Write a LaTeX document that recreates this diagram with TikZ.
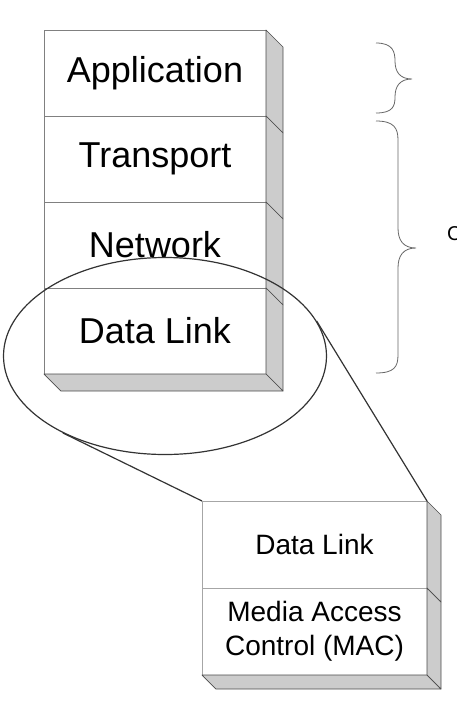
\documentclass[tikz,border=0pt]{standalone}
\usepackage{fontspec}
\setmainfont{Liberation Sans}
\usetikzlibrary{positioning, shapes.geometric}

\begin{document}
\begin{tikzpicture}[
    x=1pt, y=1pt,
    layer/.style={rectangle, draw=gray, fill=white, minimum width=222pt, minimum height=86pt,
        inner sep=0pt, outer sep=0pt, font=\fontsize{36}{43}\selectfont},
    sublayer/.style={rectangle, draw=gray!70, fill=white, minimum width=225pt, minimum height=87pt,
        inner sep=0pt, outer sep=0pt, align=center, font=\fontsize{28}{34}\selectfont},
    side/.style={fill=gray!40, draw=black!70, line width=0.7pt, line join=round},
    lens/.style={draw=black!80, line width=1.2pt},
    curly/.style={draw=black!60, line width=0.8pt}
]

\clip (0,0) rectangle (457,-713);

% Protocol stack
\node[layer] (app) at (155,-73) {Application};
\node[layer, below=0pt of app] (trans) {Transport};
\node[layer, below=0pt of trans] (net) {Network};
\node[layer, below=0pt of net] (dl) {Data Link};

% Stack depth
\draw[side] (app.north east) -- ++(17,-17) -- ++(0,-86) -- (app.south east) -- cycle;
\draw[side] (trans.north east) -- ++(17,-17) -- ++(0,-86) -- (trans.south east) -- cycle;
\draw[side] (net.north east) -- ++(17,-17) -- ++(0,-86) -- (net.south east) -- cycle;
\draw[side] (dl.north east) -- ++(17,-17) -- ++(0,-86) -- (dl.south east) -- cycle;
\draw[side] (dl.south west) -- ++(17,-17) -- ++(222,0) -- (dl.south east) -- cycle;

% Sub layers
\node[sublayer] (dlink) at (314.5,-544.5) {Data Link};
\node[sublayer, below=0pt of dlink] (mac) {Media Access\\Control (MAC)};

\draw[side] (dlink.north east) -- ++(14,-14) -- ++(0,-87) -- (dlink.south east) -- cycle;
\draw[side] (mac.north east) -- ++(14,-14) -- ++(0,-87) -- (mac.south east) -- cycle;
\draw[side] (mac.south west) -- ++(14,-14) -- ++(225,0) -- (mac.south east) -- cycle;

% Zoom on data link
\node[ellipse, lens, minimum width=323pt, minimum height=197pt, inner sep=0pt] (zoom) at (165,-356) {};
\draw[lens] (zoom.217) -- (dlink.north west);
\draw[lens] (zoom.13) -- (dlink.north east);

% Braces
\draw[curly] (376,-43) .. controls (393,-43) and (395,-52) .. (395,-61)
    .. controls (395,-72) and (400,-79) .. (412,-79)
    .. controls (400,-79) and (395,-86) .. (395,-97)
    .. controls (395,-106) and (393,-113) .. (376,-113);
\draw[curly] (376,-121) .. controls (394,-121) and (398,-128) .. (398,-140) -- (398,-228)
    .. controls (398,-240) and (403,-248) .. (416,-248)
    .. controls (403,-248) and (398,-256) .. (398,-268) -- (398,-355)
    .. controls (398,-367) and (394,-373) .. (376,-373);
\node[anchor=base west, inner sep=0pt, font=\fontsize{20}{24}\selectfont] (subnet) at (447,-240) {C};

\end{tikzpicture}
\end{document}
